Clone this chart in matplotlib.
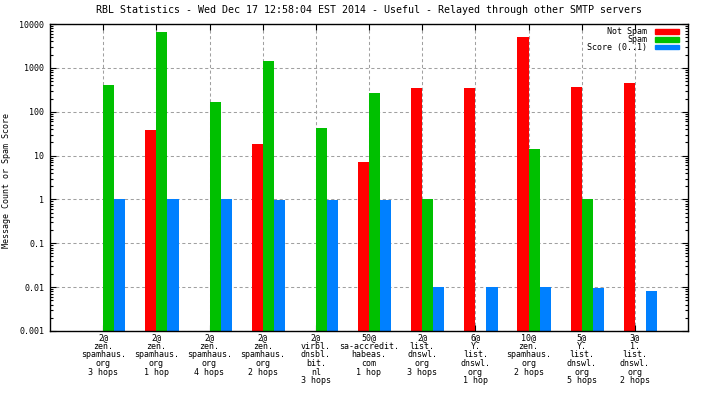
import numpy as np
import matplotlib
matplotlib.use('Agg')
from matplotlib import pyplot as plt
from matplotlib.patches import Rectangle

plt.rcParams['font.family'] = 'DejaVu Sans Mono'
plt.rcParams['font.size'] = 6

# data
labels = ['2@\nzen.\nspamhaus.\norg\n3 hops',
          '2@\nzen.\nspamhaus.\norg\n1 hop',
          '2@\nzen.\nspamhaus.\norg\n4 hops',
          '2@\nzen.\nspamhaus.\norg\n2 hops',
          '2@\nvirbl.\ndnsbl.\nbit.\nnl\n3 hops',
          '50@\nsa-accredit.\nhabeas.\ncom\n1 hop',
          '2@\nlist.\ndnswl.\norg\n3 hops',
          '6@\nY.\nlist.\ndnswl.\norg\n1 hop',
          '10@\nzen.\nspamhaus.\norg\n2 hops',
          '5@\nY.\nlist.\ndnswl.\norg\n5 hops',
          '3@\n1.\nlist.\ndnswl.\norg\n2 hops']
not_spam = [0, 38, 0, 18, 0, 7.1, 350, 350, 5000, 365, 450]
spam = [410, 6600, 166, 1430, 43, 267, 1, 0, 14, 1, 0]
score = [1.0, 1.0, 1.0, 0.98, 0.98, 0.97, 0.0091, 0.0091, 0.0091, 0.0088, 0.007]
series_names = ['Not Spam', 'Spam', 'Score (0..1)']
colors = ['#ff0000', '#00c000', '#0080ff']
ytick_vals = [0.001, 0.01, 0.1, 1, 10, 100, 1000, 10000]
ytick_text = ['0.001', '0.01', '0.1', '1', '10', '100', '1000', '10000']

fig = plt.figure(figsize=(7.04, 3.96), dpi=100)
ax = fig.add_axes([50/704, 65/396, 638/704, 307/396])

x = np.arange(1, len(labels) + 1)
w = 0.21
for i, (vals, c) in enumerate(zip([not_spam, spam, score], colors)):
    v = np.array(vals, dtype=float)
    v[v <= 0] = np.nan
    ax.bar(x + (i - 0.5) * w, v, width=w, color=c, bottom=0.001, linewidth=0)

ax.set_yscale('log')
ax.set_ylim(0.001, 10000)
ax.set_xlim(0, 12)
ax.set_yticks(ytick_vals)
ax.set_yticklabels(ytick_text)
ax.set_xticks(x)
ax.set_xticklabels(labels, linespacing=0.95, va='top')
ax.grid(True, which='major', linestyle=(0, (3, 2.5)), color='#a0a0a0', linewidth=0.75)
ax.set_axisbelow(True)
ax.tick_params(which='both', direction='in', top=True, right=True, color='black')
ax.tick_params(which='major', length=4, width=0.8, pad=1.5)
ax.tick_params(axis='y', which='major', pad=4)
ax.tick_params(which='minor', length=2, width=0.8)
ax.tick_params(axis='x', which='minor', bottom=False, top=False)
for s in ax.spines.values():
    s.set_linewidth(1.0)

fig.text(7/704, 1 - 180/396, 'Message Count or Spam Score', rotation=90,
         ha='center', va='center')
ax.set_title('RBL Statistics - Wed Dec 17 12:58:04 EST 2014 - Useful - Relayed through other SMTP servers',
             pad=8)

# legend, right aligned like gnuplot
for i, (name, c) in enumerate(zip(series_names, colors)):
    yy = 396 - 31.5 - i * 7.8
    fig.text(647/704, yy/396, name, ha='right', va='center')
    fig.patches.append(Rectangle((655/704, (yy - 2.3)/396), 24/704, 4.6/396,
                                 transform=fig.transFigure, color=c))

fig.savefig('out.png', dpi=100)
